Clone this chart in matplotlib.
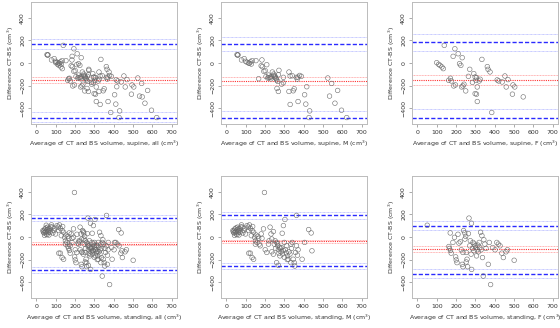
import numpy as np
import matplotlib.pyplot as plt

# Male, supine
m_sup_x = [55, 58, 60, 78, 92, 99, 107, 119, 129, 133, 153, 184, 180, 186, 194, 201, 209, 218, 226, 238,
           245, 252, 255, 260, 266, 272, 269, 167, 214, 232, 262, 269, 286, 295, 295, 324, 324, 330, 346, 351,
           341, 362, 367, 371, 379, 388, 405, 416, 411, 431, 428, 525, 545, 534, 576, 562, 596, 623,
           245, 250, 258, 205, 220, 230, 330, 370, 115, 125]
m_sup_y = [74, 70, 72, 27, 39, 15, 6, -3, -9, 21, 21, 27, -24, -33, -74, -68, -15, -107, -127, -80,
           -98, -118, -133, -151, -163, -65, -104, -139, -133, -121, -225, -252, -187, -175, -127, -80, -252, -367, -246, -228,
           -113, -127, -142, -341, -110, -118, -281, -210, -364, -424, -483, -133, -181, -293, -243, -356, -418, -483,
           -110, -125, -140, -120, -130, -140, -115, -125, 0, 10]

# Female, supine
f_sup_x = [100, 110, 117, 127, 134, 139, 162, 171, 176, 185, 194, 188, 197, 211, 218, 225, 232, 229, 236, 241,
           250, 264, 271, 285, 292, 299, 303, 306, 310, 299, 306, 310, 320, 325, 334, 362, 366, 376, 385, 413,
           421, 439, 453, 460, 469, 495, 504, 492, 548]
f_sup_y = [3, -12, -21, -35, -50, 156, -153, -135, -159, 59, 126, -203, -194, 82, -6, -21, 47, -212, -203, -188,
           -247, -118, -56, -171, -94, -124, -153, -129, -212, -271, -276, -341, -159, -144, 32, -32, -56, -79, -438, -150,
           -159, -168, -115, -212, -147, -194, -212, -276, -300]

# Male, standing
m_std_x = [34, 39, 44, 48, 51, 56, 58, 61, 65, 68, 73, 78, 82, 85, 90, 95, 99, 107, 112, 116,
           119, 124, 129, 133, 136, 141, 146, 150, 153, 158, 163, 167, 170, 175, 180, 184, 192, 201, 209, 218,
           221, 226, 231, 235, 243, 248, 252, 255, 260, 266, 269, 272, 277, 283, 286, 289, 295, 300, 303, 306,
           312, 317, 320, 324, 329, 334, 337, 341, 346, 351, 354, 358, 363, 368, 371, 150, 124, 133, 141, 197,
           363, 426, 439, 443, 405, 392, 116, 235, 243, 260, 269, 334,
           40, 45, 50, 55, 60, 42, 70, 75, 62, 36, 280, 290, 300, 310, 315, 295, 275, 265]
m_std_y = [57, 36, 72, 48, 27, 63, 87, 42, 18, 72, 54, 107, 87, 36, 57, 78, 27, 101, 87, 57,
           107, 78, 12, 57, 93, 42, -3, -33, 18, -48, 6, -12, -63, -78, 27, -12, 72, -113, -137, -63,
           -33, 87, 27, -18, 48, -63, -33, -101, -48, -78, -113, -143, -167, -131, -93, 33, 101, -48, 155, -113,
           -78, -167, -197, -131, -152, -63, -101, -48, -197, -227, -257, -137, -78, -161, -113, -63, -143, -182, -197, 394,
           191, 66, 36, -122, -48, -197, -143, -131, -152, -227, -251, -227,
           60, 40, 80, 20, 55, 15, 40, 90, 70, 45, -100, -150, -180, -140, -200, -120, -90, -60]

# Female, standing
f_std_x = [51, 170, 163, 166, 171, 175, 198, 201, 205, 210, 215, 222, 227, 232, 236, 239, 245, 246, 250, 253,
           257, 260, 264, 267, 271, 274, 278, 280, 281, 285, 288, 292, 295, 299, 302, 306, 309, 313, 316, 320,
           323, 327, 330, 334, 337, 341, 344, 349, 355, 367, 372, 379, 390, 402, 411, 419, 428, 437, 445, 459,
           466, 501, 253, 236, 184, 192]
f_std_y = [104, 36, -84, -101, -119, -143, -176, -203, -227, 24, -54, -42, -113, -242, -263, 57, 36, -18, 6, -137,
           -197, -263, 30, 167, -78, -33, -152, 122, -287, -101, -48, -122, -63, -78, -93, -167, -113, -72, -131, -48,
           -93, 42, -113, 12, -182, -346, -24, -63, -101, -242, -48, -421, -93, -113, -48, -63, -78, -143, -182, -131,
           -113, -206, -221, -137, -48, -3]

# reference lines per panel: sup all, sup M, sup F, std all, std M, std F
bias = [-151, -157, -151, -60, -39, -110]
bias_ci_hi = [-127, -121, -104, -48, -24, -84]
bias_ci_lo = [-175, -193, -193, -72, -54, -137]
loa_up = [172, 169, 184, 167, 191, 101]
loa_up_hi = [216, 228, 258, 191, 218, 143]
loa_up_lo = [127, 110, 110, 143, 161, 63]
loa_low = [-483, -483, -483, -293, -254, -328]
loa_low_hi = [-430, -421, -406, -263, -227, -287]
loa_low_lo = [-525, -545, -560, -316, -281, -364]

labels = ["supine, all", "supine, M", "supine, F", "standing, all", "standing, M", "standing, F"]

panels_x = [m_sup_x + f_sup_x, m_sup_x, f_sup_x, m_std_x + f_std_x, m_std_x, f_std_x]
panels_y = [m_sup_y + f_sup_y, m_sup_y, f_sup_y, m_std_y + f_std_y, m_std_y, f_std_y]

W, H = 560, 328
fig = plt.figure(figsize=(W / 100, H / 100), dpi=100)
fig.patch.set_facecolor("white")

lefts = [31, 221, 412]
tops = [2, 176]
aw, ah = 146, 122
fs = 4.5

for i in range(6):
    r, c = divmod(i, 3)
    ax = fig.add_axes([lefts[c] / W, (H - tops[r] - ah) / H, aw / W, ah / H])
    ax.set_xlim(-28, 728)
    ax.set_ylim(-540, 540)

    # limits of agreement with CIs
    for v in (loa_up_hi[i], loa_up_lo[i], loa_low_hi[i], loa_low_lo[i]):
        ax.axhline(v, color="#b4b8ff", lw=0.6, ls=(0, (1, 0.6)), zorder=1)
    for v in (loa_up[i], loa_low[i]):
        ax.axhline(v, color="#2a2aff", lw=1.0, ls=(0, (3, 1.5)), zorder=2)
    # bias with CI
    for v in (bias_ci_hi[i], bias_ci_lo[i]):
        ax.axhline(v, color="#ffb0b0", lw=0.7, ls=(0, (1, 0.6)), zorder=1)
    ax.axhline(bias[i], color="#ff3030", lw=0.8, ls=(0, (1, 1)), zorder=2)

    ax.scatter(panels_x[i], panels_y[i], s=11, facecolors="none", edgecolors="#6a6a6a",
               linewidths=0.4, zorder=3)

    ax.set_xticks(np.arange(0, 701, 100))
    ax.set_yticks([-400, -200, 0, 200, 400])
    ax.tick_params(labelsize=fs, length=2.2, width=0.5, color="#888888", pad=2, labelcolor="#333333")
    for lab in ax.get_yticklabels():
        lab.set_rotation(90)
        lab.set_va("center")
    for s in ax.spines.values():
        s.set_color("#bbbbbb")
        s.set_linewidth(0.7)

    ax.set_xlabel("Average of CT and BS volume, " + labels[i] + " (cm$^3$)", fontsize=fs,
                  color="#333333", labelpad=3)
    ax.set_ylabel("Difference CT-BS (cm$^3$)", fontsize=fs, color="#333333", labelpad=3)

fig.savefig("out.png", dpi=100)
